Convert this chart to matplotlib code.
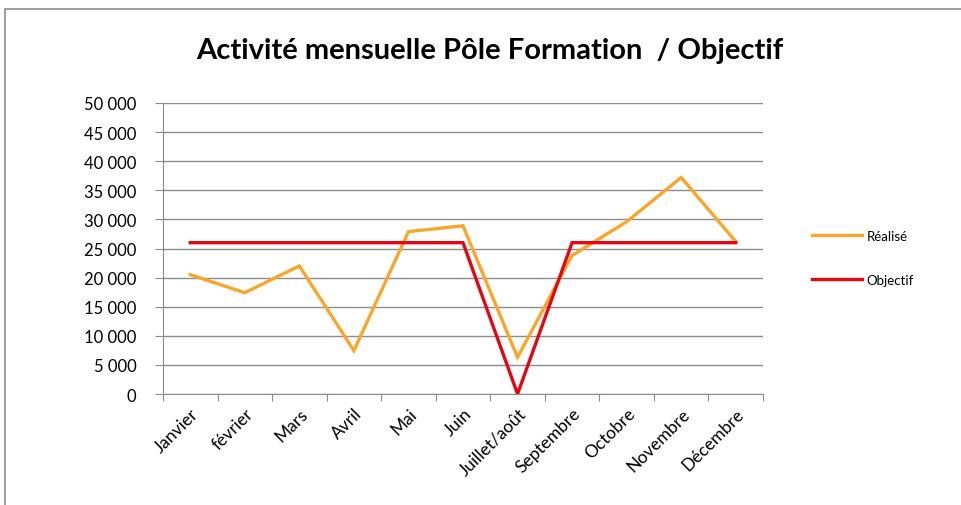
import matplotlib.pyplot as plt
from matplotlib.patches import Rectangle
from matplotlib.ticker import FuncFormatter

# Données
mois = ['Janvier', 'février', 'Mars', 'Avril', 'Mai', 'Juin', 'Juillet/août',
        'Septembre', 'Octobre', 'Novembre', 'Décembre']
realise = [20500, 17400, 22000, 7450, 27900, 28900, 6300, 23800, 29600, 37200, 26200]
objectif = [26000, 26000, 26000, 26000, 26000, 26000, 0, 26000, 26000, 26000, 26000]

plt.rcParams['font.family'] = ['Lato', 'DejaVu Sans']

W, H = 962, 506
fig = plt.figure(figsize=(W / 100, H / 100), dpi=100)

# Cadre du graphique
fig.patches.append(Rectangle((5 / W, -0.05), 1.0, 1 - 10 / H + 0.05,
                             transform=fig.transFigure, fill=False,
                             edgecolor='#8c8c8c', linewidth=1.2))

# Zone de tracé
ax = fig.add_axes([163 / W, 1 - 395 / H, 600 / W, 291 / H])
x = list(range(len(mois)))
ax.plot(x, realise, color='#FAA62A', linewidth=2.4, label='Réalisé', solid_joinstyle='miter')
ax.plot(x, objectif, color='#E30613', linewidth=2.4, label='Objectif', solid_joinstyle='miter')

ax.set_xlim(-0.5, len(mois) - 0.5)
ax.set_ylim(0, 50000)
ax.set_yticks(range(0, 50001, 5000))
ax.yaxis.set_major_formatter(FuncFormatter(lambda v, p: f'{int(v):,}'.replace(',', ' ')))
ax.grid(axis='y', color='#8c8c8c', linewidth=1)
ax.set_axisbelow(True)

# Graduations X aux limites des catégories
ax.set_xticks([i - 0.5 for i in range(len(mois) + 1)])
ax.set_xticklabels([])
ax.set_xticks(x, minor=True)
ax.set_xticklabels(mois, minor=True, rotation=45, ha='right', va='top',
                   rotation_mode='anchor', fontsize=12.5)
ax.tick_params(axis='x', which='minor', length=0, pad=8)
ax.tick_params(axis='x', which='major', length=5, color='#8c8c8c', direction='out')
ax.tick_params(axis='y', length=6, color='#8c8c8c', labelsize=12, pad=13)

for s in ['top', 'right']:
    ax.spines[s].set_visible(False)
ax.spines['left'].set_color('#8c8c8c')
ax.spines['bottom'].set_color('#8c8c8c')

fig.text(490 / W, 1 - 51 / H, 'Activité mensuelle Pôle Formation  / Objectif',
         ha='center', va='center', fontsize=21, fontweight='bold')

leg = fig.legend(loc='upper left', bbox_to_anchor=(800 / W, 1 - 219 / H), frameon=False,
                 fontsize=9.5, handlelength=3.8, handletextpad=0.35, labelspacing=2.4)

fig.savefig('out.png', dpi=100)
